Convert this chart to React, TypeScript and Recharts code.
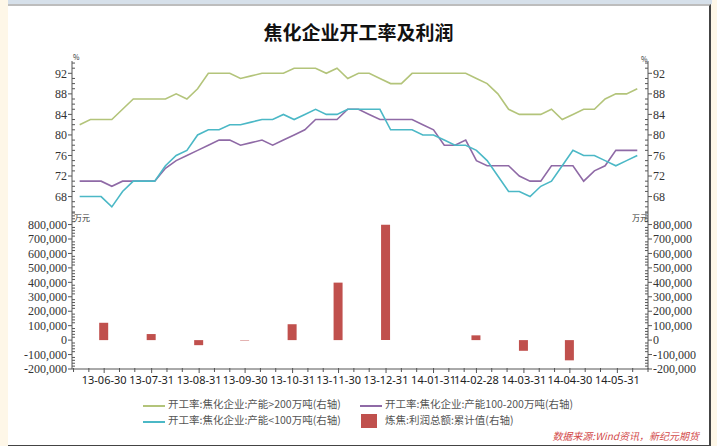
import React from "react";
import { Bar, BarChart, Line, LineChart, XAxis, YAxis } from "recharts";

const DAY = 86400000;
const day = (s: string) => {
  const [y, m, d] = s.split("-").map(Number);
  return Date.UTC(y, m - 1, d) / DAY;
};

// weekly utilisation readings (%), first week ends 2013-06-14
const weekStart = "2013-06-14";
const rateBig = [
  82, 83, 83, 83, 85, 87, 87, 87, 87, 88, 87, 89, 92, 92, 92, 91, 91.5, 92, 92, 92, 93, 93, 93, 92, 93, 91, 92,
  92, 91, 90, 90, 92, 92, 92, 92, 92, 92, 91, 90, 88, 85, 84, 84, 84, 85, 83, 84, 85, 85, 87, 88, 88, 89,
];
const rateMid = [
  71, 71, 71, 70, 71, 71, 71, 71, 73.5, 75, 76, 77, 78, 79, 79, 78, 78.5, 79, 78, 79, 80, 81, 83, 83, 83, 85, 85,
  84, 83, 83, 83, 83, 82, 81, 78, 78, 79, 75, 74, 74, 74, 72, 71, 71, 74, 74, 74, 71, 73, 74, 77, 77, 77,
];
const rateSmall = [
  68, 68, 68, 66, 69, 71, 71, 71, 74, 76, 77, 80, 81, 81, 82, 82, 82.5, 83, 83, 84, 83, 84, 85, 84, 84, 85, 85,
  85, 85, 81, 81, 81, 80, 80, 79, 78, 78, 77, 75, 72, 69, 69, 68, 70, 71, 74, 77, 76, 76, 75, 74, 75, 76,
];

// cumulative coking profit (万元), month ends
const profitDates = [
  "2013-06-30", "2013-07-31", "2013-08-31", "2013-09-30", "2013-10-31", "2013-11-30",
  "2013-12-31", "2014-02-28", "2014-03-31", "2014-04-30",
];
const profitValues = [120000, 42000, -35000, -3000, 110000, 398000, 798000, 33000, -74000, -140000];

const pctTicks = Array.from({ length: 30 }, (_, i) => 65 + i);
const moneyTicks = Array.from({ length: 55 }, (_, i) => -200000 + i * 20000);

const X0 = day("2013-06-09");
const X1 = day("2014-06-20");

// 10th, 20th and last day of every month across the axis
const xTicks: number[] = [];
for (let m = 5; m <= 17; m++) {
  const y = 2013 + Math.floor(m / 12);
  const mm = m % 12;
  const last = new Date(Date.UTC(y, mm + 1, 0)).getUTCDate();
  [10, 20, last].forEach((d) => {
    const t = Date.UTC(y, mm, d) / DAY;
    if (t >= X0 && t <= X1) xTicks.push(t);
  });
}

const lineRows = rateBig.map((v, i) => ({
  t: day(weekStart) + i * 7,
  big: v,
  mid: rateMid[i],
  small: rateSmall[i],
}));
const barRows = profitDates.map((d, i) => ({ t: day(d), profit: profitValues[i] }));

const AXIS = "#555";
const GREEN = "#b3c47a";
const PURPLE = "#8f6aa6";
const TEAL = "#4bb8c6";
const RED = "#c0504d";
const serif = "'Liberation Serif', 'Times New Roman', serif";
const cjk = "'Noto Sans CJK SC', 'Noto Sans', sans-serif";

const yTick =
  (side: "left" | "right", isMajor: (v: number) => boolean, fmt: (v: number) => string) =>
  (props: any) => {
    const { x, y, payload } = props;
    const v = payload.value;
    const dir = side === "left" ? -1 : 1;
    const ax = x - dir * 6;
    if (isMajor(v)) {
      return (
        <g>
          <line x1={ax} x2={ax + dir * 4} y1={y} y2={y} stroke={AXIS} />
          <text
            x={ax + dir * 5}
            y={y}
            dy="0.35em"
            textAnchor={side === "left" ? "end" : "start"}
            fontSize={12}
            fontFamily={serif}
            fill="#333"
          >
            {fmt(v)}
          </text>
        </g>
      );
    }
    return <line x1={ax} x2={ax - dir * 3} y1={y} y2={y} stroke={AXIS} />;
  };

const pctMajor = (v: number) => v % 4 === 0 && v >= 68 && v <= 92;
const moneyMajor = (v: number) => v % 100000 === 0;
const money = (v: number) => v.toLocaleString("en-US");

const DateTick = (props: any) => {
  const { x, y, payload } = props;
  const ay = y - 6;
  const d = new Date(payload.value * DAY);
  const next = new Date((payload.value + 1) * DAY);
  const monthEnd = next.getUTCMonth() !== d.getUTCMonth();
  if (!monthEnd) return <line x1={x} x2={x} y1={ay - 1} y2={ay + 3} stroke={AXIS} />;
  const label = `${String(d.getUTCFullYear()).slice(2)}-${String(d.getUTCMonth() + 1).padStart(2, "0")}-${String(
    d.getUTCDate()
  ).padStart(2, "0")}`;
  return (
    <g>
      <line x1={x} x2={x} y1={ay - 1} y2={ay + 4} stroke={AXIS} />
      <text x={x} y={ay + 15} textAnchor="middle" fontSize={11} fontFamily="'Noto Sans', sans-serif" fill="#222">
        {label}
      </text>
    </g>
  );
};

const unit = (text: string, left: number, top: number, size: number) => (
  <div style={{ position: "absolute", left, top, fontSize: size, fontFamily: cjk, color: "#333", lineHeight: 1 }}>
    {text}
  </div>
);

const legendText: React.CSSProperties = {
  position: "absolute",
  fontSize: 10.5,
  fontFamily: cjk,
  color: "#555",
  lineHeight: 1,
  whiteSpace: "nowrap",
};

export default function App() {
  return (
    <div style={{ position: "fixed", left: 0, top: 0, width: 717, height: 446, background: "#fef7e8", overflow: "hidden" }}>
      <div style={{ position: "absolute", left: 8, top: 0, width: 704, height: 4, background: "#d6e0ea" }} />
      <div
        style={{
          position: "absolute",
          left: 8,
          top: 4,
          width: 701,
          height: 439,
          background: "#fff",
          borderTop: "2px solid #bdbdbd",
          borderRight: "2px solid #444",
          borderBottom: "2px solid #444",
        }}
      />
      <div
        style={{
          position: "absolute",
          left: 0,
          width: 717,
          top: 22,
          textAlign: "center",
          fontSize: 19,
          fontWeight: 700,
          fontFamily: cjk,
          color: "#111",
          lineHeight: 1,
        }}
      >
        焦化企业开工率及利润
      </div>

      <div style={{ position: "absolute", left: 0, top: 0 }}>
        <LineChart width={717} height={213} data={lineRows} margin={{ top: 61, right: 29, bottom: 0, left: 32 }}>
          <XAxis dataKey="t" type="number" domain={[X0, X1]} hide />
          <YAxis
            yAxisId="l"
            orientation="left"
            width={40}
            domain={[64.8, 94.4]}
            ticks={pctTicks}
            interval={0}
            allowDataOverflow
            tickLine={false}
            tickSize={4}
            tickMargin={2}
            axisLine={{ stroke: AXIS }}
            tick={yTick("left", pctMajor, String)}
          />
          <YAxis
            yAxisId="r"
            orientation="right"
            width={40}
            domain={[64.8, 94.4]}
            ticks={pctTicks}
            interval={0}
            allowDataOverflow
            tickLine={false}
            tickSize={4}
            tickMargin={2}
            axisLine={{ stroke: AXIS }}
            tick={yTick("right", pctMajor, String)}
          />
          <Line yAxisId="r" dataKey="big" stroke={GREEN} strokeWidth={1.6} dot={false} isAnimationActive={false} />
          <Line yAxisId="r" dataKey="mid" stroke={PURPLE} strokeWidth={1.6} dot={false} isAnimationActive={false} />
          <Line yAxisId="r" dataKey="small" stroke={TEAL} strokeWidth={1.6} dot={false} isAnimationActive={false} />
        </LineChart>
      </div>

      <div style={{ position: "absolute", left: 0, top: 0 }}>
        <BarChart width={717} height={446} data={barRows} margin={{ top: 213, right: 29, bottom: 47, left: 32 }}>
          <XAxis
            dataKey="t"
            type="number"
            domain={[X0, X1]}
            ticks={xTicks}
            interval={0}
            height={30}
            tickLine={false}
            tickSize={4}
            tickMargin={2}
            axisLine={{ stroke: AXIS }}
            tick={DateTick}
          />
          <YAxis
            yAxisId="l"
            orientation="left"
            width={40}
            domain={[-200000, 880000]}
            ticks={moneyTicks}
            interval={0}
            allowDataOverflow
            tickLine={false}
            tickSize={4}
            tickMargin={2}
            axisLine={{ stroke: AXIS }}
            tick={yTick("left", moneyMajor, money)}
          />
          <YAxis
            yAxisId="r"
            orientation="right"
            width={40}
            domain={[-200000, 880000]}
            ticks={moneyTicks}
            interval={0}
            allowDataOverflow
            tickLine={false}
            tickSize={4}
            tickMargin={2}
            axisLine={{ stroke: AXIS }}
            tick={yTick("right", moneyMajor, money)}
          />
          <Bar yAxisId="r" dataKey="profit" fill={RED} barSize={9} isAnimationActive={false} />
        </BarChart>
      </div>

      {unit("%", 73, 54, 7)}
      {unit("%", 641, 56, 7)}
      {unit("万元", 74, 214, 8)}
      {unit("万元", 632, 214, 8)}

      <div style={{ position: "absolute", left: 143, top: 405, width: 22, height: 1.5, background: GREEN }} />
      <div style={{ ...legendText, left: 168, top: 399 }}>开工率:焦化企业:产能&gt;200万吨(右轴)</div>
      <div style={{ position: "absolute", left: 360, top: 405, width: 22, height: 1.5, background: PURPLE }} />
      <div style={{ ...legendText, left: 385, top: 399 }}>开工率:焦化企业:产能100-200万吨(右轴)</div>
      <div style={{ position: "absolute", left: 143, top: 421, width: 22, height: 1.5, background: TEAL }} />
      <div style={{ ...legendText, left: 168, top: 415 }}>开工率:焦化企业:产能&lt;100万吨(右轴)</div>
      <div style={{ position: "absolute", left: 361, top: 414, width: 16, height: 14, background: RED }} />
      <div style={{ ...legendText, left: 385, top: 415 }}>炼焦:利润总额:累计值(右轴)</div>

      <div
        style={{
          position: "absolute",
          right: 18,
          top: 431,
          fontSize: 10,
          fontStyle: "italic",
          fontFamily: cjk,
          color: "#d24a4a",
          lineHeight: 1,
        }}
      >
        数据来源:Wind资讯，新纪元期货
      </div>
    </div>
  );
}
